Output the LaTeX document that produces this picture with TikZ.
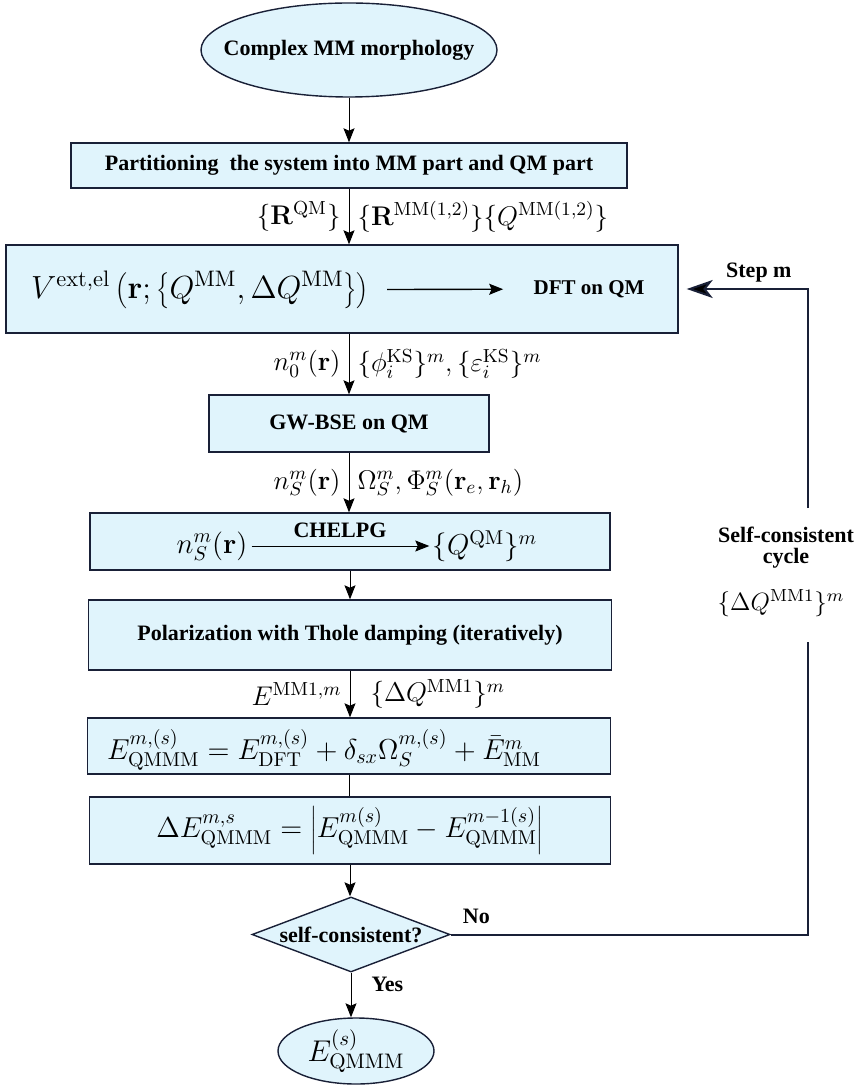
\RequirePackage{fix-cm}
\documentclass[tikz,border=0pt]{standalone}
\usepackage[no-math]{fontspec}
\setmainfont{Liberation Serif}
\usetikzlibrary{arrows.meta,shapes.geometric}
\definecolor{boxfill}{RGB}{224,244,252}
\definecolor{boxline}{RGB}{25,32,55}

\begin{document}
\begin{tikzpicture}[x=0.5pt, y=-0.5pt,
  box/.style={draw=boxline, fill=boxfill, line width=0.7pt, inner sep=0pt,
              font=\bfseries\fontsize{11}{13}\selectfont},
  term/.style={box, ellipse},
  dec/.style={box, diamond, aspect=2.64},
  txt/.style={inner sep=0pt, align=center, font=\bfseries\fontsize{11}{10.5}\selectfont},
  eq/.style={inner sep=0pt, font=\fontsize{14.4}{17}\selectfont},
  lbl/.style={inner sep=4pt, font=\fontsize{13.5}{16}\selectfont},
  lnk/.style={-{Stealth[length=7pt,width=5.5pt,inset=1.2pt]}, line width=0.5pt},
  back/.style={draw=boxline, line width=1pt},
]
\useasboundingbox (0,0) rectangle (857,1085);

% main column
\node[term, minimum width=148pt, minimum height=47pt, inner xsep=-11pt] (morph) at (349,50) {Complex MM morphology};
\node[box, minimum width=278pt, minimum height=22.5pt] (part) at (349,165.5) {Partitioning\ \ the system into MM part and QM part};
\node[box, minimum width=336pt, minimum height=44pt] (dft) at (342,289) {};
\node[eq, font=\fontsize{16}{19}\selectfont] (vext) at (200,290) {$V^{\mathrm{ext,el}}\left(\mathbf{r};\left\{Q^{\mathrm{MM}},\Delta Q^{\mathrm{MM}}\right\}\right)$};
\node[txt, font=\bfseries\fontsize{10.5}{12}\selectfont] (dftqm) at (589,289) {DFT on QM};
\node[box, minimum width=140pt, minimum height=28.5pt] (gw) at (349,423.5) {GW-BSE on QM};
\node[box, minimum width=260pt, minimum height=28.5pt] (chelpg) at (350,541.5) {};
\node[eq] (nsm) at (212,546) {$n^m_S(\mathbf{r})$};
\node[eq] (qqm) at (485,546) {$\{Q^{\mathrm{QM}}\}^m$};
\node[box, minimum width=261.5pt, minimum height=35pt] (pol) at (350,635) {Polarization with Thole damping (iteratively)};
\node[box, minimum width=261.5pt, minimum height=28pt] (etot) at (349,746) {};
\node[eq] (eform) at (324,750) {$E^{m,(s)}_{\mathrm{QMMM}}=E^{m,(s)}_{\mathrm{DFT}}+\delta_{sx}\Omega^{m,(s)}_S+\bar{E}^m_{\mathrm{MM}}$};
\node[box, minimum width=260.5pt, minimum height=33.5pt, font=\fontsize{14.4}{17}\selectfont] (dE) at (350,830.5)
  {$\Delta E^{m,s}_{\mathrm{QMMM}}=\left|E^{m(s)}_{\mathrm{QMMM}}-E^{m-1(s)}_{\mathrm{QMMM}}\right|$};
\node[dec, minimum width=99pt, minimum height=37.5pt] (sc) at (351,934.5) {self-consistent?};
\node[term, minimum width=78pt, minimum height=33pt, font=\fontsize{15}{18}\selectfont] (res) at (356,1051) {$E^{(s)}_{\mathrm{QMMM}}$};

% loop labels
\node[txt] (cyc) at (786,548) {Self-consistent\\cycle};
\node[inner sep=0pt, font=\fontsize{12.5}{15}\selectfont] (dq) at (781,603) {$\{\Delta Q^{\mathrm{MM1}}\}^m$};
\coordinate (upend) at (808,508);
\coordinate (lowend) at (808,642);

% connectors
\draw[lnk] (morph) -- (morph |- part.north);
\draw[lnk] (part.south) -- (part.south |- dft.north)
  node[midway, left, lbl] {$\{\mathbf{R}^{\mathrm{QM}}\}$}
  node[midway, right, lbl] {$\{\mathbf{R}^{\mathrm{MM(1,2)}}\}\{Q^{\mathrm{MM(1,2)}}\}$};
\draw[lnk, line width=0.7pt, shorten <=9pt, shorten >=15pt] (vext) -- (dftqm);
\draw[lnk] (part.south |- dft.south) -- (gw.north)
  node[midway, left, lbl] {$n^m_0(\mathbf{r})$}
  node[midway, right, lbl] {$\{\phi^{\mathrm{KS}}_i\}^m,\{\varepsilon^{\mathrm{KS}}_i\}^m$};
\draw[lnk] (gw.south) -- (gw.south |- chelpg.north)
  node[midway, left, lbl] {$n^m_S(\mathbf{r})$}
  node[midway, right, lbl] {$\Omega^m_S,\Phi^m_S(\mathbf{r}_e,\mathbf{r}_h)$};
\draw[lnk, shorten <=2pt, shorten >=1.5pt] (nsm) -- (qqm) node[midway, above=4pt, txt] {CHELPG};
\draw[lnk] (chelpg.south) -- (chelpg.south |- pol.north);
\draw[lnk] (pol.south) -- (pol.south |- etot.north)
  node[midway, left, lbl] {$E^{\mathrm{MM1},m}$}
  node[midway, right, xshift=6pt, lbl] {$\{\Delta Q^{\mathrm{MM1}}\}^m$};
\draw[line width=0.5pt] (etot.south) -- (etot.south |- dE.north);
\draw[lnk] (dE.south) -- (dE.south |- sc.north);
\draw[lnk] (sc.south) -- (sc.south |- res.north) node[pos=0.26, right=10pt, txt] {Yes};

% feedback loop
\draw[back] (sc.east) -| (lowend) node[pos=0.036, above=5pt, txt] {No};
\draw[back, -{Stealth[length=13pt,width=9pt,inset=3.5pt,fill=black]}, shorten >=4pt] (upend) |- (dft.east)
  node[pos=0.69, above=3pt, txt] {Step m};
\end{tikzpicture}
\end{document}
